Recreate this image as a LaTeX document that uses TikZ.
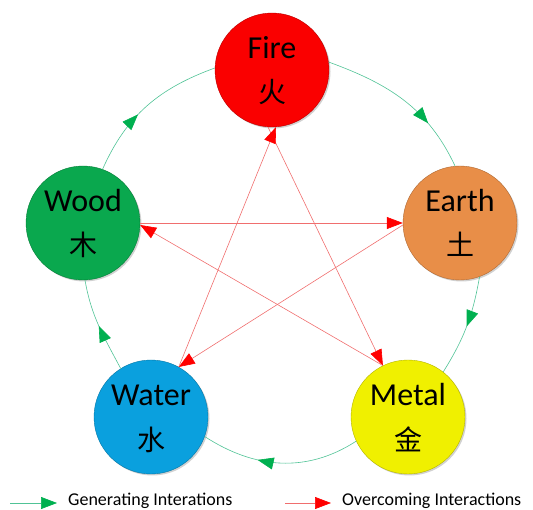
\documentclass[tikz,border=0pt]{standalone}
\usepackage{fontspec}
\setmainfont{Carlito}
\newfontfamily\cjk{Noto Sans CJK SC}
\usetikzlibrary{arrows.meta,decorations.markings,shadows}
\definecolor{firec}{RGB}{250,0,0}
\definecolor{woodc}{RGB}{10,168,78}
\definecolor{earthc}{RGB}{232,142,72}
\definecolor{waterc}{RGB}{10,160,222}
\definecolor{metalc}{RGB}{240,240,0}
\definecolor{genc}{RGB}{80,195,150}
\definecolor{genarrow}{RGB}{0,176,80}
\definecolor{overc}{RGB}{240,110,110}
\definecolor{overarrow}{RGB}{255,0,0}
\begin{document}
\begin{tikzpicture}[x=1pt,y=1pt,
  element/.style={circle, minimum size=114pt, inner sep=0pt, draw=#1!75!black,
    line width=0.4pt, fill=#1,
    drop shadow={shadow xshift=1.5pt,shadow yshift=-1.5pt,opacity=0.3,fill=black!60}},
  ename/.style={font=\fontsize{32}{36}\selectfont, anchor=base, inner sep=0pt},
  cname/.style={font=\cjk\fontsize{28}{32}\selectfont, anchor=base, inner sep=0pt},
  legendtext/.style={font=\fontsize{18}{21}\selectfont, anchor=base west, inner sep=0pt},
  genline/.style={draw=genc, line width=0.6pt},
  gentip/.style={-{Triangle[length=16pt,width=12pt,color=genarrow]}},
  genmark/.style={postaction={decorate}, decoration={markings,
    mark=at position #1 with {\arrow{Triangle[length=16pt,width=12pt,color=genarrow]}}}},
  overline/.style={draw=overc, line width=0.6pt, -{Triangle[length=16pt,width=12pt,color=overarrow]}}
]
\useasboundingbox (0,0) rectangle (533,-510);

% elements
\node[element=firec]  (fire)  at (272,-70)  {};
\node[element=woodc]  (wood)  at (83,-223)  {};
\node[element=earthc] (earth) at (460,-223) {};
\node[element=waterc] (water) at (151,-417) {};
\node[element=metalc] (metal) at (408,-417) {};

% labels
\node[ename] (fireT)  at (272,-59)  {Fire};
\node[cname] (fireC)  at (272,-103) {火};
\node[ename] (woodT)  at (83,-212)  {Wood};
\node[cname] (woodC)  at (83,-256)  {木};
\node[ename] (earthT) at (460,-212) {Earth};
\node[cname] (earthC) at (460,-256) {土};
\node[ename] (waterT) at (151,-406) {Water};
\node[cname] (waterC) at (151,-450) {水};
\node[ename] (metalT) at (408,-406) {Metal};
\node[cname] (metalC) at (408,-450) {金};

% generating cycle
\draw[genline, genmark=0.42] (wood.70)   to[out=66,in=200]  (fire.178);
\draw[genline, genmark=0.7]  (fire.8)    to[out=-20,in=115] (earth.95);
\draw[genline, genmark=0.5]  (earth.-70) to[out=-100,in=58] (metal.52);
\draw[genline, genmark=0.64] (metal.205) to[out=213,in=-33] (water.-20);
\draw[genline, genmark=0.5]  (water.122) to[out=118,in=-80] (wood.-88);

% overcoming star
\draw[overline] (fire.-94)  -- (metal.116);
\draw[overline] (metal.116) -- (wood.-2);
\draw[overline] (wood.0)    -- (earth.180);
\draw[overline] (earth.182) -- (water.61);
\draw[overline] (water.61)  -- (fire.-86);

% legend
\coordinate (g1) at (10,-503);
\coordinate (g2) at (57,-503);
\draw[genline, gentip] (g1) -- (g2);
\node[legendtext] (gtext) at (68,-505) {Generating Interations};
\coordinate (r1) at (285,-503);
\coordinate (r2) at (331,-503);
\draw[overline] (r1) -- (r2);
\node[legendtext] (rtext) at (342,-505) {Overcoming Interactions};
\end{tikzpicture}
\end{document}
